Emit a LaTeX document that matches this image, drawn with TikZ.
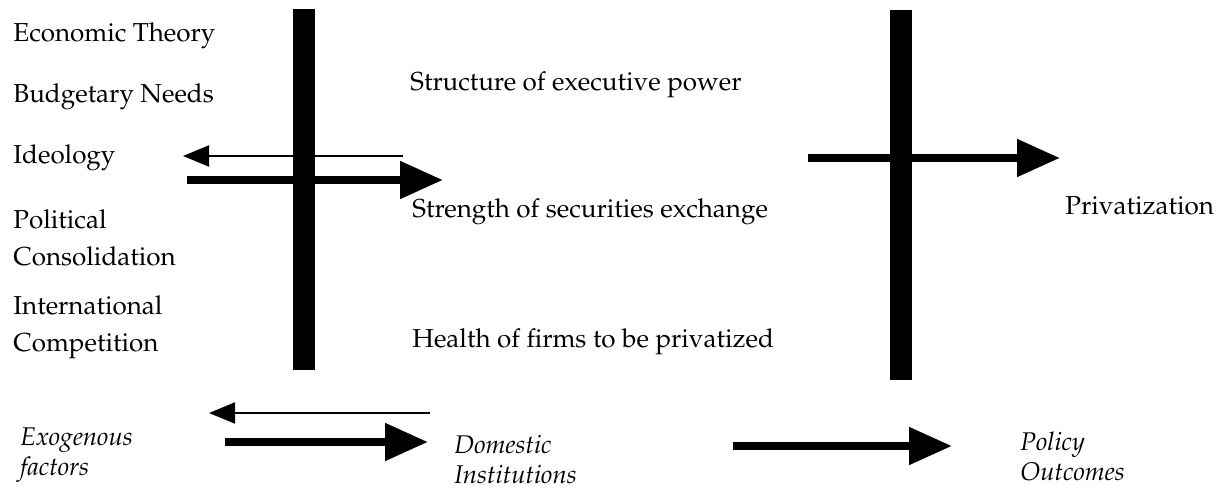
\documentclass[tikz,border=0pt]{standalone}
\usepackage[T1]{fontenc}
\usepackage{mathpazo}
\usetikzlibrary{arrows.meta}
\begin{document}
\begin{tikzpicture}[x=0.5pt,y=-0.5pt,every node/.style={anchor=west,inner sep=0pt,align=left,font=\fontsize{13}{18.5}\selectfont},
outcome/.style={font=\fontsize{12.8}{15}\selectfont\itshape},
bar/.style={line width=11pt},
thinarrow/.style={line width=1pt,-{Triangle[length=13pt,width=10.5pt]}},
thickarrow/.style={line width=4pt,-{Triangle[length=21.5pt,width=18pt]}}]
\useasboundingbox (0,0) rectangle (1230,490);
\coordinate (b1t) at (304,9); \coordinate (b1b) at (304,370);
\coordinate (b2t) at (901,10); \coordinate (b2b) at (901,380);
\draw[bar] (b1t) -- (b1b);
\draw[bar] (b2t) -- (b2b);
\node (econ) at (13,36) {Economic Theory};
\node (budget) at (13,97) {Budgetary Needs};
\node (ideol) at (13,158) {Ideology};
\node (polit) at (13,238) {Political\\Consolidation};
\node (intl) at (13,327) {International\\Competition};
\node (struct) at (410,85) {Structure of executive power};
\node (secur) at (412,212) {Strength of securities exchange};
\node (health) at (412,342) {Health of firms to be privatized};
\node (priv) at (1065,206) {Privatization};
\node[outcome] (exo) at (20,455) {Exogenous\\factors};
\node[outcome] (dom) at (454,459) {Domestic\\Institutions};
\node[outcome] (pol) at (1020,456) {Policy\\Outcomes};
\coordinate (a1s) at (403,156); \coordinate (a1e) at (183,156);
\coordinate (a2s) at (187,180); \coordinate (a2e) at (443,180);
\coordinate (a3s) at (808,158); \coordinate (a3e) at (1060,158);
\coordinate (a4s) at (430,413); \coordinate (a4e) at (209,413);
\coordinate (a5s) at (225,442); \coordinate (a5e) at (428,442);
\coordinate (a6s) at (733,446); \coordinate (a6e) at (952,446);
\draw[thinarrow] (a1s) -- (a1e);
\draw[thickarrow] (a2s) -- (a2e);
\draw[thickarrow] (a3s) -- (a3e);
\draw[thinarrow] (a4s) -- (a4e);
\draw[thickarrow] (a5s) -- (a5e);
\draw[thickarrow] (a6s) -- (a6e);
\end{tikzpicture}
\end{document}
